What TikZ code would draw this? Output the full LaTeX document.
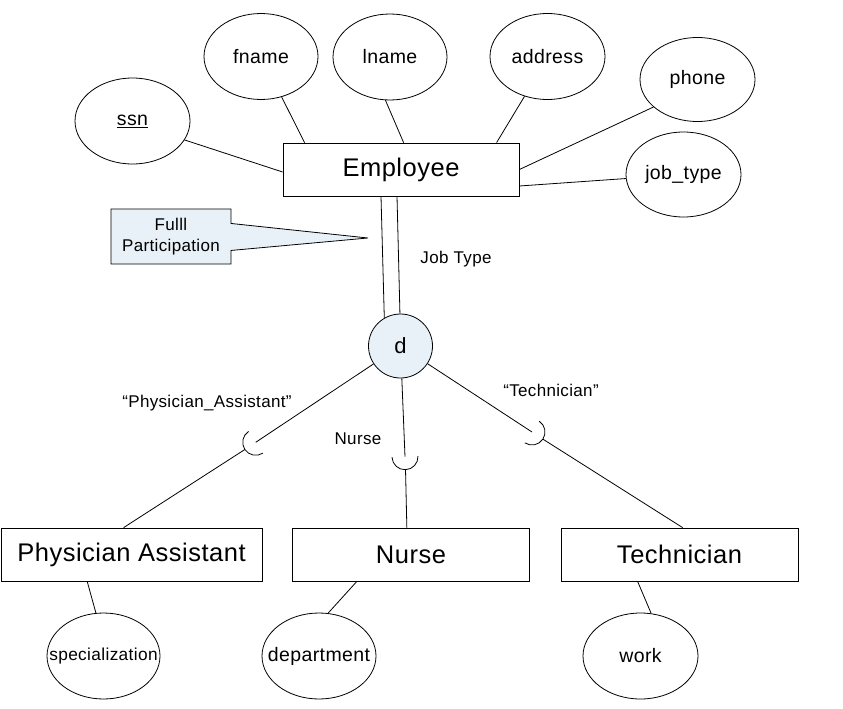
\documentclass[tikz,border=0pt]{standalone}
\usepackage{fontspec}
\setmainfont[LetterSpace=2]{Liberation Sans}
\usetikzlibrary{shapes.geometric,shapes.callouts}
\definecolor{paleblue}{RGB}{232,240,248}
\begin{document}
\begin{tikzpicture}[x=1pt,y=1pt,line width=0.8pt,
  entity/.style={draw,rectangle,minimum width=236pt,minimum height=53pt,inner sep=0pt,font=\fontsize{25.5}{30}\selectfont},
  attr/.style={draw,ellipse,minimum width=115pt,minimum height=86pt,inner sep=0pt,font=\fontsize{19.5}{23}\selectfont},
  lbl/.style={font=\fontsize{17}{20}\selectfont,inner sep=0pt}]
\useasboundingbox (0,0) rectangle (843,-709);

% entities
\node[entity] (emp) at (401,-169.5) {Employee};
\node[entity,minimum width=261pt] (pa) at (131.5,-554.5) {Physician Assistant};
\node[entity,minimum width=236.5pt] (nu) at (411,-554.5) {Nurse};
\node[entity,minimum width=237pt] (tc) at (679.5,-554.5) {Technician};

% attributes
\node[attr] (ssn) at (132.5,-121) {\underline{ssn}};
\node[attr,minimum width=114pt] (fname) at (261,-56.5) {fname};
\node[attr,minimum width=114pt] (lname) at (390,-57) {lname};
\node[attr] (address) at (547.5,-56.5) {address};
\node[attr,minimum height=84pt] (phone) at (697.5,-79.5) {phone};
\node[attr,minimum height=85pt] (jobtype) at (683.5,-174.5) {job\_type};
\node[attr,minimum width=113pt,font=\fontsize{17.3}{22}\selectfont] (spec) at (103.5,-656) {\makebox[0pt]{specialization}};
\node[attr,minimum width=114pt] (dept) at (319,-656) {\makebox[0pt]{department}};
\node[attr] (work) at (640.5,-656) {work};

% attribute connectors
\draw (ssn.340.4) -- ([yshift=-2.5pt]emp.west);
\draw (fname.297.4) -- ([xshift=22pt]emp.north west);
\draw (lname.264.6) -- ([xshift=121pt]emp.north west);
\draw (address.240.3) -- ([xshift=214pt]emp.north west);
\draw (phone.212.9) -- (emp.east);
\draw (jobtype.184.5) -- ([yshift=-16.5pt]emp.east);
\draw ([xshift=86.6pt]pa.south west) -- (spec.100.3);
\draw ([xshift=64.5pt]nu.south west) -- (dept.78.2);
\draw ([xshift=77pt]tc.south west) -- (work.76.9);

% disjointness circle
\node[draw,circle,fill=paleblue,minimum size=64pt,inner sep=0pt,font=\fontsize{22}{26}\selectfont] (d) at (400.5,-346) {d};
\draw ([xshift=-20pt]emp.south) -- (d.120.5);
\draw ([xshift=-4pt]emp.south) -- (d.91);

% callout
\node[rectangle callout,draw,fill=paleblue,minimum width=120pt,minimum height=55pt,inner sep=0pt,
  callout absolute pointer={(368,-238)},callout pointer width=27pt,
  align=center,font=\fontsize{17}{20.7}\selectfont] (fp) at (171,-236.5) {Fulll\\Participation};

% subclass connectors with subset cups
\coordinate (cpa) at (255.7,-442.3);
\coordinate (cnu) at (405,-456.7);
\coordinate (ctc) at (532,-432);
\coordinate (apa) at ([shift={(213.6:13pt)}]cpa);
\coordinate (anu) at ([shift={(272.3:13pt)}]cnu);
\coordinate (atc) at ([shift={(326.8:13pt)}]ctc);

\draw (d) -- (cpa);
\draw ([shift={(123.6:13pt)}]cpa) arc[start angle=123.6,end angle=303.6,radius=13pt];
\draw (apa) -- ([xshift=123pt]pa.north west);

\draw (d) -- (cnu);
\draw ([shift={(182.3:13pt)}]cnu) arc[start angle=182.3,end angle=362.3,radius=13pt];
\draw (anu) -- ([xshift=114.5pt]nu.north west);

\draw (d) -- (ctc);
\draw ([shift={(236.8:13pt)}]ctc) arc[start angle=236.8,end angle=416.8,radius=13pt];
\draw (atc) -- ([xshift=122pt]tc.north west);

% labels
\node[lbl] (ljt) at (456,-259) {Job Type};
\node[lbl] (lpa) at (207,-403) {“Physician\_Assistant"};
\node[lbl] (lnu) at (358,-439) {Nurse};
\node[lbl] (ltc) at (551,-390) {“Technician”};
\end{tikzpicture}
\end{document}
